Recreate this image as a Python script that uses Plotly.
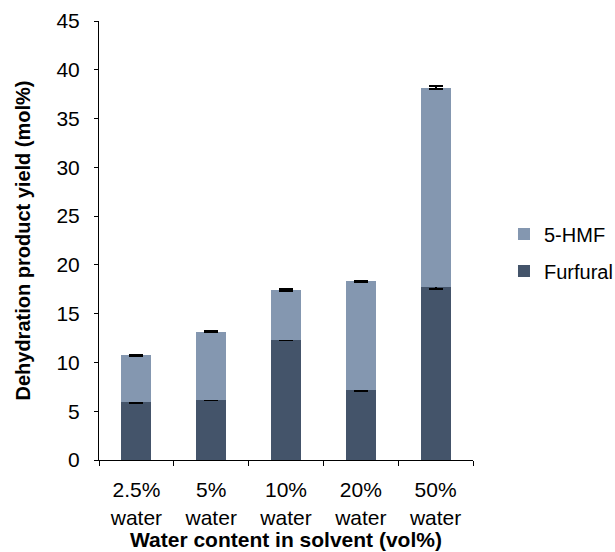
import plotly.graph_objects as go

categories = ["2.5%<br>water", "5%<br>water", "10%<br>water", "20%<br>water", "50%<br>water"]
furfural = [5.95, 6.2, 12.35, 7.15, 17.7]
hmf = [4.8, 6.95, 5.03, 11.15, 20.47]
furfural_err = [0.08, 0.06, 0.07, 0.07, 0.12]
hmf_err = [0.06, 0.04, 0.1, 0.04, 0.12]
y_ticks = [0, 5, 10, 15, 20, 25, 30, 35, 40, 45]

FONT = "Liberation Sans, Arial, sans-serif"
FS = 21

fig = go.Figure()
fig.add_trace(go.Bar(
    x=categories, y=furfural, name="Furfural",
    marker=dict(color="#44546A", line=dict(width=0)),
    width=0.4, legendgroup="f", legendrank=2,
    error_y=dict(type="data", array=furfural_err, color="black", thickness=2, width=7),
))
fig.add_trace(go.Bar(
    x=categories, y=hmf, name="5-HMF",
    marker=dict(color="#8497B0", line=dict(width=0)),
    width=0.4, legendgroup="h", legendrank=1,
    error_y=dict(type="data", array=hmf_err, color="black", thickness=2, width=7),
))

fig.update_layout(
    width=615, height=552,
    barmode="stack",
    plot_bgcolor="white", paper_bgcolor="white",
    margin=dict(l=98.5, r=141.5, t=20.7, b=92, autoexpand=False),
    font=dict(family=FONT, size=FS, color="black"),
    legend=dict(
        xref="container", yref="container",
        x=0.8195, y=0.5425, xanchor="left", yanchor="middle",
        traceorder="grouped", tracegroupgap=8,
        font=dict(size=20), itemwidth=30,
    ),
    xaxis=dict(
        showline=True, linecolor="black", linewidth=1,
        ticks="outside", ticklen=5, tickcolor="black",
        tickson="boundaries", showgrid=False, automargin=False,
        tickfont=dict(size=FS), ticklabelstandoff=11,
        title=dict(text="<b>Water content in solvent (vol%)</b>", standoff=2,
                   font=dict(size=FS)),
    ),
    yaxis=dict(
        range=[0, 45], tickvals=y_ticks,
        showline=True, linecolor="black", linewidth=1,
        ticks="outside", ticklen=4, tickcolor="black",
        showgrid=False, zeroline=False, automargin=False,
        tickfont=dict(size=FS), ticklabelstandoff=10,
        title=dict(text="<b>Dehydration product yield (mol%)</b>", standoff=20,
                   font=dict(size=FS - 1)),
    ),
)

fig.write_html("out.html")
